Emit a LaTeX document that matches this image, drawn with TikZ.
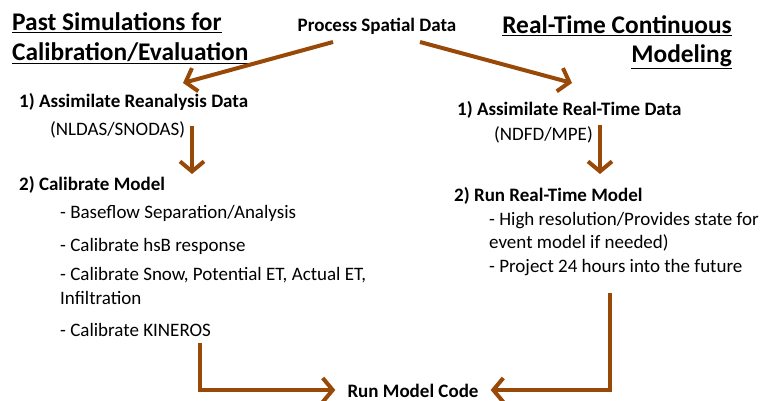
\documentclass[tikz,border=0pt]{standalone}
\usepackage{fontspec}
\setmainfont{Carlito}
\usetikzlibrary{arrows.meta, positioning, calc}

\definecolor{flowbrown}{HTML}{984807}

\begin{document}
\begin{tikzpicture}[
    x=1pt, y=-1pt,
    every node/.style={inner sep=0pt, font=\fontsize{19}{23}\selectfont},
    head/.style={font=\fontsize{25.4}{30}\selectfont\bfseries},
    stepname/.style={font=\fontsize{19}{23}\selectfont\bfseries},
    item/.style={anchor=west},
    flow/.style={draw=flowbrown, line width=4pt,
        -{Straight Barb[length=10pt, width=24pt, line width=4pt]}}
]
\useasboundingbox (0,0) rectangle (774,400);

% titles
\node [head, anchor=west] (pasthead) at (12,23) {\underline{Past Simulations for}};
\node [head, anchor=west] (pasthead2) at (12,53) {\underline{Calibration/Evaluation}};
\node [head, anchor=east] (realhead) at (732,26) {\underline{Real-Time Continuous}};
\node [head, anchor=east] (realhead2) at (732,57) {\underline{Modeling}};
\node [stepname] (proc) at (377,26) {Process Spatial Data};

% past simulations
\node [stepname, anchor=west] (assimL) at (19,102) {1) Assimilate Reanalysis Data};
\node [item] (nldas) at (50,130) {(NLDAS/SNODAS)};
\node [stepname, anchor=west] (calib) at (19,185) {2) Calibrate Model};
\node [item] (base) at (60,213) {- Baseflow Separation/Analysis};
\node [item] (hsb) at (60,246) {- Calibrate hsB response};
\node [item] (snow) at (60,275) {- Calibrate Snow, Potential ET, Actual ET,};
\node [item] (infil) at (60,298) {Infiltration};
\node [item] (kin) at (60,330) {- Calibrate KINEROS};

% real-time
\node [stepname, anchor=west] (assimR) at (457,110) {1) Assimilate Real-Time Data};
\node [item] (ndfd) at (494,135) {(NDFD/MPE)};
\node [stepname, anchor=west] (runrt) at (454,196) {2) Run Real-Time Model};
\node [item] (hires) at (489,221) {- High resolution/Provides state for};
\node [item] (event) at (489,243) {event model if needed)};
\node [item] (proj) at (489,268) {- Project 24 hours into the future};

\node [stepname] (code) at (413,391) {Run Model Code};

% arrows
\draw [flow] ($(proc.center)+(-44,16)$) -- ($(assimL.west)+(164,-19)$);
\draw [flow] ($(proc.center)+(43,16)$) -- ($(assimR.west)+(115,-27)$);
\draw [flow] ($(nldas.west)+(142,-4)$) -- ($(calib.west)+(173,-11)$);
\draw [flow] ($(ndfd.west)+(106,-10)$) -- ($(runrt.west)+(146,-22)$);
\draw [flow] ($(kin.west)+(140,13)$) |- ($(code.west)+(-12,-1)$);
\draw [flow] ($(proj.west)+(121,25)$) |- ($(code.east)+(12,-1)$);
\end{tikzpicture}
\end{document}
